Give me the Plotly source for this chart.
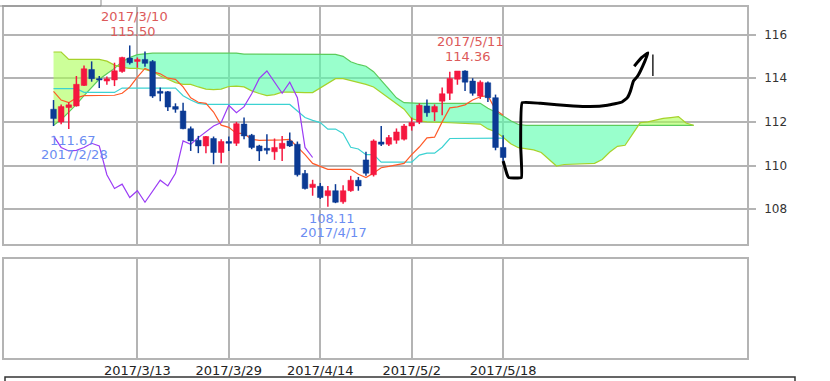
import plotly.graph_objects as go
import pandas as pd

# ---------------- data (USD/JPY daily) ----------------
dates = [d.strftime("%Y/%-m/%-d") for d in pd.bdate_range("2017-02-24", "2017-05-18")]

opens = [112.58, 112.00, 112.66, 112.73, 113.67, 114.40, 113.98, 113.87, 113.92, 114.31,
         114.92, 114.77, 114.86, 114.77, 113.40, 113.38, 112.70, 112.50, 111.69, 111.16,
         110.90, 111.24, 110.60, 111.10, 111.02, 111.90, 111.39, 110.90, 110.79, 110.63,
         110.78, 111.13, 110.98, 109.64, 109.00, 109.05, 108.62, 108.85, 108.34, 108.85,
         109.33, 110.26, 109.58, 111.08, 110.98, 111.16, 111.21, 111.81, 112.00, 112.73,
         112.45, 112.95, 113.31, 113.95, 114.33, 113.87, 113.18, 113.79, 113.11, 110.83]
highs = [113.00, 112.80, 112.90, 114.10, 114.58, 114.77, 114.10, 114.08, 114.71, 114.98,
         115.50, 114.95, 115.22, 114.83, 113.57, 113.41, 112.85, 112.88, 111.79, 111.36,
         111.36, 111.33, 111.20, 111.33, 112.00, 112.20, 111.45, 110.95, 111.43, 111.24,
         111.36, 111.51, 111.10, 109.80, 109.35, 109.20, 109.07, 109.15, 109.10, 109.53,
         109.48, 110.63, 111.20, 111.81, 111.40, 111.70, 111.90, 112.20, 112.85, 113.03,
         112.80, 113.57, 114.30, 114.30, 114.36, 114.00, 113.90, 113.85, 113.25, 111.39]
lows = [111.81, 111.89, 111.67, 112.70, 113.64, 113.84, 113.55, 113.70, 113.64, 114.25,
        114.63, 114.48, 114.52, 113.10, 112.95, 112.50, 112.42, 111.66, 110.67, 110.57,
        110.57, 110.06, 110.11, 110.67, 110.90, 111.21, 110.75, 110.21, 110.52, 110.26,
        110.21, 110.85, 109.50, 108.90, 108.62, 108.47, 108.11, 108.28, 108.25, 108.80,
        108.85, 109.53, 109.50, 110.90, 110.90, 111.00, 111.15, 111.60, 111.90, 112.24,
        112.04, 112.30, 113.00, 113.70, 113.41, 113.20, 113.05, 112.91, 110.70, 110.21]
closes = [112.15, 112.70, 112.78, 113.72, 114.43, 113.98, 113.92, 113.97, 114.34, 114.95,
          114.71, 114.86, 114.68, 113.18, 113.31, 112.68, 112.58, 111.69, 111.13, 110.90,
          111.33, 110.60, 111.10, 111.02, 111.92, 111.36, 110.83, 110.67, 110.70, 110.83,
          111.02, 110.90, 109.58, 108.95, 109.15, 108.54, 108.85, 108.32, 108.85, 109.33,
          109.07, 109.65, 111.13, 110.98, 111.28, 111.54, 111.81, 111.97, 112.76, 112.42,
          112.70, 113.29, 113.99, 114.33, 113.82, 113.31, 113.82, 113.11, 110.83, 110.37]

# Ichimoku lines
tenkan = [113.40, 113.00, 112.88, 113.10, 113.20, 113.20, 113.20, 113.20, 113.22, 113.31,
          113.59, 114.05, 114.45, 114.30, 114.20, 114.00, 113.95, 113.60, 113.10, 112.90,
          112.85, 112.45, 111.85, 111.75, 111.47, 111.47, 111.20, 111.15, 111.15, 111.15,
          111.18, 111.20, 110.85, 110.50, 110.10, 109.98, 109.83, 109.83, 109.83, 109.83,
          109.60, 109.45, 109.66, 109.90, 109.96, 110.03, 110.10, 110.50, 110.85, 111.27,
          111.30, 112.00, 112.64, 112.69, 112.78, 113.00, 113.15, 113.20, 112.55, 112.30]
kijun = [113.52, 113.52, 113.52, 113.52, 113.35, 113.35, 113.35, 113.35, 113.35, 113.55,
         113.55, 113.55, 113.55, 113.55, 113.55, 113.55, 113.55, 113.20, 113.00, 112.85,
         112.80, 112.80, 112.80, 112.80, 112.80, 112.80, 112.80, 112.80, 112.80, 112.80,
         112.80, 112.80, 112.50, 112.20, 112.07, 111.97, 111.67, 111.67, 111.47, 110.84,
         110.76, 110.50, 110.50, 110.16, 110.16, 110.16, 110.16, 110.16, 110.48, 110.57,
         110.57, 110.84, 111.24, 111.24, 111.26, 111.26, 111.26, 111.26, 111.26, 111.26]
span_a = [115.20, 115.20, 114.86, 114.86, 114.86, 114.86, 114.86, 114.78, 114.60, 114.50,
          114.45, 114.45, 114.40, 114.30, 114.10, 113.95, 113.80, 113.72, 113.72, 113.60,
          113.50, 113.48, 113.50, 113.62, 113.64, 113.60, 113.42, 113.30, 113.20, 113.25,
          113.36, 113.36, 113.34, 113.34, 113.34, 113.55, 113.80, 113.98, 113.98, 113.90,
          113.80, 113.72, 113.60, 113.35, 113.10, 112.85, 112.58, 112.15, 112.05, 112.00,
          112.00, 111.98, 111.96, 111.95, 111.94, 111.94, 111.90, 111.68, 111.55, 111.30,
          111.00, 110.82, 110.76, 110.72, 110.60, 110.30, 109.98, 110.05, 110.06, 110.06,
          110.06, 110.10, 110.28, 110.62, 110.88, 110.93, 111.45, 111.97, 112.00, 112.08,
          112.16, 112.20, 112.24, 111.95, 111.84]
span_b = [111.85, 112.10, 112.45, 112.80, 113.20, 113.60, 113.95, 114.20, 114.45, 114.75,
          114.95, 115.08, 115.13, 115.15, 115.15, 115.15, 115.15, 115.15, 115.15, 115.15,
          115.15, 115.15, 115.15, 115.15, 115.15, 115.10, 115.10, 115.10, 115.10, 115.10,
          115.10, 115.10, 115.10, 115.10, 115.10, 115.10, 115.10, 115.09, 115.00, 114.75,
          114.63, 114.55, 114.30, 113.90, 113.55, 113.10, 112.88, 112.85, 112.85, 112.85,
          112.85, 112.85, 112.85, 112.85, 112.85, 112.85, 112.85, 112.62, 112.45, 112.27,
          112.05, 111.88, 111.84, 111.84, 111.84, 111.84, 111.84, 111.84, 111.84, 111.84,
          111.84, 111.84, 111.84, 111.84, 111.84, 111.84, 111.84, 111.84, 111.84, 111.84,
          111.84, 111.84, 111.84, 111.84, 111.84]
chikou_shift = 25

tick_idx = [11, 23, 35, 47, 59]
tick_labels = ["2017/3/13", "2017/3/29", "2017/4/14", "2017/5/2", "2017/5/18"]
y_ticks = [108, 110, 112, 114, 116]

# hand-drawn pen strokes (bar index, price)
pen1_x = [59.0, 59.5, 59.7, 60.4, 61.4, 61.3, 61.5, 63.9, 68.2, 70.4, 72.7, 74.6, 75.3,
          75.7, 76.1, 76.6, 77.0, 77.6, 78.0, 77.2, 76.2]
pen1_y = [110.21, 109.61, 109.46, 109.43, 109.46, 110.90, 112.88, 112.85, 112.73, 112.70,
          112.76, 112.91, 113.11, 113.41, 113.87, 114.07, 114.32, 114.78, 115.16, 114.95, 114.55]
pen2_x = [78.65, 78.65]
pen2_y = [115.09, 114.10]

# ---------------- styles ----------------
RED = "#f5173f"
NAVY = "#0b3a94"
GRID = "#b4b4b4"
FONT = "DejaVu Sans"
BODY_HALF = 0.37

n = len(closes)
xi = list(range(n))
xc = list(range(len(span_a)))

fig = go.Figure()

# ----- cloud fill, split where the spans cross -----
pts = []
for i in range(len(span_a)):
    pts.append((xc[i], span_a[i], span_b[i]))
    if i < len(span_a) - 1:
        d0 = span_a[i] - span_b[i]
        d1 = span_a[i + 1] - span_b[i + 1]
        if d0 * d1 < 0:
            t = d0 / (d0 - d1)
            yc = span_a[i] + t * (span_a[i + 1] - span_a[i])
            pts.append((xc[i] + t, yc, yc))


def sgn(p):
    d = p[1] - p[2]
    return 0 if abs(d) < 1e-9 else (1 if d > 0 else -1)


runs = []
cur = [pts[0]]
cur_s = sgn(pts[0])
for p in pts[1:]:
    s = sgn(p)
    cur.append(p)
    if s == 0:
        runs.append((cur_s, cur))
        cur = [p]
        cur_s = 0
    elif cur_s == 0:
        cur_s = s
runs.append((cur_s, cur))

for s, run in runs:
    if s == 0 or len(run) < 2:
        continue
    xs = [p[0] for p in run]
    ua = [p[1] for p in run]
    lb = [p[2] for p in run]
    color = "rgba(170,255,85,0.6)" if s > 0 else "rgba(85,255,170,0.6)"
    fig.add_trace(go.Scatter(x=xs + xs[::-1], y=ua + lb[::-1], fill="toself",
                             fillcolor=color, line=dict(width=0), mode="lines",
                             hoverinfo="skip", showlegend=False))

fig.add_trace(go.Scatter(x=xc, y=span_b, mode="lines", line=dict(color="#5ccc5c", width=1.2),
                         showlegend=False, name="先行スパン2"))
fig.add_trace(go.Scatter(x=xc, y=span_a, mode="lines", line=dict(color="#a6d22a", width=1.2),
                         showlegend=False, name="先行スパン1"))
fig.add_trace(go.Scatter(x=xi, y=kijun, mode="lines", line=dict(color="#3cd2d2", width=1.2),
                         showlegend=False, name="基準線"))
fig.add_trace(go.Scatter(x=xi, y=tenkan, mode="lines", line=dict(color="#ff5a28", width=1.2),
                         showlegend=False, name="転換線"))
fig.add_trace(go.Scatter(x=[i - chikou_shift for i in xi[chikou_shift:]],
                         y=closes[chikou_shift:], mode="lines",
                         line=dict(color="#9b3cf5", width=1.2), showlegend=False, name="遅行スパン"))

# ----- candles: wicks + bodies (scatter polygons so they sit above the cloud) -----
for up, col in ((True, RED), (False, NAVY)):
    wx, wy, bx, by = [], [], [], []
    for i in xi:
        if (closes[i] >= opens[i]) != up:
            continue
        wx += [i, i, None]
        wy += [lows[i], highs[i], None]
        lo = min(opens[i], closes[i])
        hi = max(opens[i], closes[i])
        if hi - lo < 0.04:
            hi = lo + 0.04
        bx += [i - BODY_HALF, i + BODY_HALF, i + BODY_HALF, i - BODY_HALF, i - BODY_HALF, None]
        by += [lo, lo, hi, hi, lo, None]
    fig.add_trace(go.Scatter(x=wx, y=wy, mode="lines", line=dict(color=col, width=1.5),
                             hoverinfo="skip", showlegend=False))
    fig.add_trace(go.Scatter(x=bx, y=by, mode="lines", fill="toself", fillcolor=col,
                             line=dict(color=col, width=0.5),
                             hoverinfo="skip", showlegend=False))

# hand-drawn strokes
fig.add_trace(go.Scatter(x=pen1_x, y=pen1_y, mode="lines",
                         line=dict(color="black", width=3, shape="spline", smoothing=0.3),
                         showlegend=False, hoverinfo="skip"))
fig.add_trace(go.Scatter(x=pen2_x, y=pen2_y, mode="lines", line=dict(color="black", width=1.3),
                         showlegend=False, hoverinfo="skip"))

# dummy trace on lower panel
fig.add_trace(go.Scatter(x=[xi[0]], y=[0.5], mode="markers", marker=dict(opacity=0),
                         showlegend=False, hoverinfo="skip", xaxis="x2", yaxis="y2"))

# ----- high / low annotations -----
ih = highs.index(max(highs[:30]))
il = lows.index(min(lows[:8]))
ih2 = highs.index(max(highs[40:]))
il2 = lows.index(min(lows))
RED_T = "#dc5a5a"
BLUE_T = "#6b8df2"
ann = []


def lab(i, y, top_text, bottom_text, color, above):
    if above:
        ann.append(dict(x=i, y=y, text=bottom_text, yanchor="bottom", yshift=4, xshift=3))
        ann.append(dict(x=i, y=y, text=top_text, yanchor="bottom", yshift=19, xshift=5))
    else:
        ann.append(dict(x=i, y=y, text=top_text, yanchor="top", yshift=-2, xshift=4))
        ann.append(dict(x=i, y=y, text=bottom_text, yanchor="top", yshift=-16, xshift=6))
    for a in ann[-2:]:
        a.update(xref="x", yref="y", showarrow=False,
                 font=dict(family=FONT, size=13, color=color))


lab(ih, highs[ih], dates[ih], f"{highs[ih]:.2f}", RED_T, True)
lab(ih2, highs[ih2], dates[ih2], f"{highs[ih2]:.2f}", RED_T, True)
lab(il, lows[il], f"{lows[il]:.2f}", dates[il], BLUE_T, False)
lab(il2, lows[il2], f"{lows[il2]:.2f}", dates[il2], BLUE_T, False)

W, H = 830, 381
xl, xr = 4 / W, 747 / W

fig.update_layout(
    width=W, height=H, margin=dict(l=0, r=0, t=0, b=0),
    paper_bgcolor="white", plot_bgcolor="white", showlegend=False,
    annotations=ann,
    xaxis=dict(domain=[xl, xr], anchor="y", range=[-6.5, 91.0], tickvals=tick_idx,
               showticklabels=False, ticks="", showgrid=True, gridcolor=GRID, gridwidth=1.5,
               showline=True, mirror=True, linecolor=GRID, linewidth=1.5, zeroline=False),
    yaxis=dict(domain=[1 - 244 / H, 1 - 7 / H], anchor="x", side="right", range=[106.41, 117.26],
               tickvals=y_ticks, ticks="outside", ticklen=7, tickcolor=GRID, tickwidth=1.5,
               ticklabelstandoff=6,
               tickfont=dict(family=FONT, size=12, color="#333333"),
               showgrid=True, gridcolor=GRID, gridwidth=1.5,
               showline=True, mirror=True, linecolor=GRID, linewidth=1.5, zeroline=False,
               automargin=False),
    xaxis2=dict(domain=[xl, xr], anchor="y2", range=[-6.5, 91.0], tickvals=tick_idx,
                ticktext=tick_labels, ticks="", showgrid=True, gridcolor=GRID, gridwidth=1.5,
                tickfont=dict(family=FONT, size=13, color="#222222"),
                showline=True, mirror=True, linecolor=GRID, linewidth=1.5, zeroline=False,
                automargin=False),
    yaxis2=dict(domain=[1 - 358 / H, 1 - 259 / H], anchor="x2", range=[0, 1],
                showticklabels=False, ticks="", showgrid=False, zeroline=False,
                showline=True, mirror=True, linecolor=GRID, linewidth=1.5, automargin=False),
    shapes=[
        dict(type="rect", xref="paper", yref="paper", x0=-0.01, x1=101 / W, y0=1 - 6 / H, y1=1.02,
             line=dict(color="#8a8a8a", width=1)),
        dict(type="rect", xref="paper", yref="paper", x0=5 / W, x1=795 / W, y0=-0.05,
             y1=1 - 377 / H, line=dict(color="#333333", width=1.5)),
    ],
)

fig.write_html("out.html")
